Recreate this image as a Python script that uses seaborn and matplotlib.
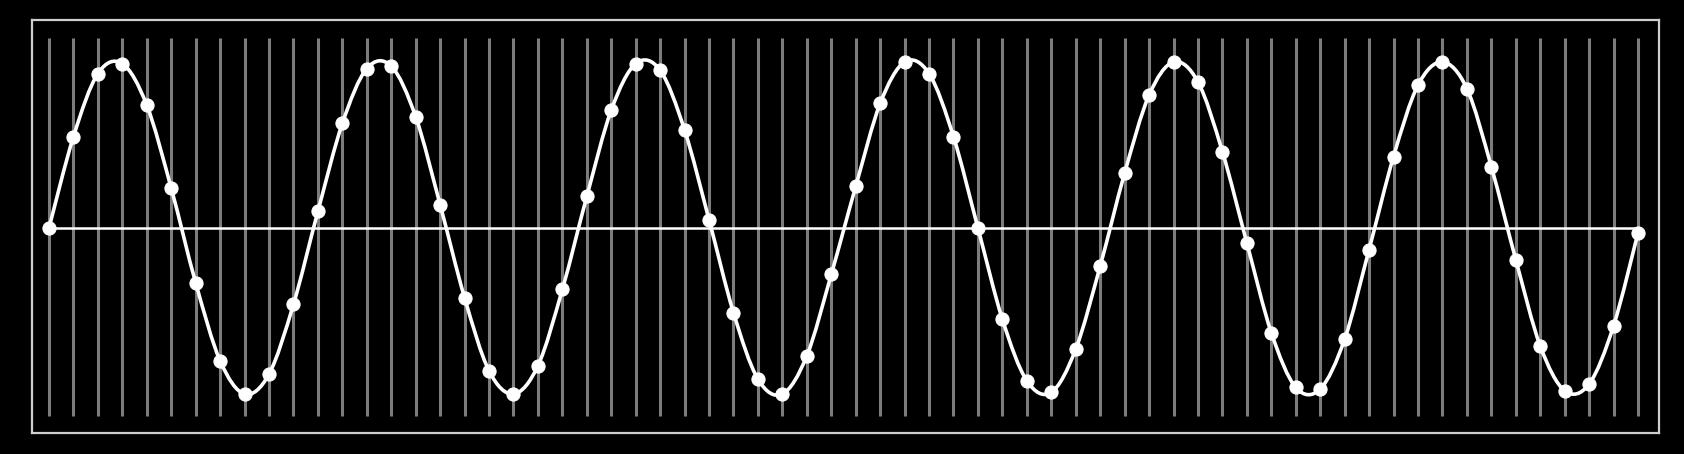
import matplotlib
matplotlib.use('Agg')

import matplotlib.pyplot as plt
from matplotlib.path import Path
from matplotlib.patches import PathPatch
import seaborn as sns
import numpy as np
import pandas as pd

sample_idx = list(range(66))
sample_vals = [
    0.00, 0.55, 0.93, 0.99, 0.74, 0.24, -0.33, -0.80, -1.00, -0.88,
    -0.46, 0.10, 0.63, 0.96, 0.975, 0.67, 0.14, -0.42, -0.86, -1.00,
    -0.83, -0.37, 0.19, 0.71, 0.99, 0.95, 0.59, 0.05, -0.51, -0.91,
    -1.00, -0.77, -0.28, 0.25, 0.75, 1.00, 0.93, 0.55, 0.00, -0.55,
    -0.92, -0.99, -0.73, -0.23, 0.33, 0.80, 1.00, 0.88, 0.46, -0.09,
    -0.63, -0.96, -0.97, -0.67, -0.13, 0.43, 0.86, 1.00, 0.84, 0.37,
    -0.19, -0.71, -0.98, -0.94, -0.59, -0.03,
]

BG = '#000000'
FRAME = '#cfcfcf'
GRID = '#7c7c7c'
WAVE = '#ffffff'

sns.set_style('dark', {
    'figure.facecolor': BG,
    'axes.facecolor': BG,
    'axes.edgecolor': FRAME,
})

df = pd.DataFrame({'n': sample_idx, 'value': sample_vals})


def smooth_path(x, y):
    """Catmull-Rom curve through the samples, as cubic bezier segments."""
    p = np.column_stack([x, y]).astype(float)
    p_ext = np.vstack([p[0], p, p[-1]])
    verts = [p[0]]
    codes = [Path.MOVETO]
    for i in range(len(p) - 1):
        p0, p1, p2, p3 = p_ext[i], p_ext[i + 1], p_ext[i + 2], p_ext[i + 3]
        verts += [p1 + (p2 - p0) / 6, p2 - (p3 - p1) / 6, p2]
        codes += [Path.CURVE4] * 3
    return Path(verts, codes)


W, H = 1684, 454
fig = plt.figure(figsize=(W / 100, H / 100), dpi=100, facecolor=BG)
ax = fig.add_axes([32 / W, (H - 433) / H, (1659 - 32) / W, (433 - 20) / H])

# one grey stem per sample
ax.vlines(df['n'], -1.133, 1.145, color=GRID, linewidth=2.2, zorder=1)

# zero axis between first and last sample
ax.hlines(0, df['n'].iloc[0], df['n'].iloc[-1], color=WAVE, linewidth=1.8, zorder=2)

# smooth wave through the samples
ax.add_patch(PathPatch(smooth_path(df['n'], df['value']), facecolor='none',
                       edgecolor=WAVE, linewidth=2.6, zorder=3))

# sample dots
sns.lineplot(data=df, x='n', y='value', color=WAVE, linestyle='',
             marker='o', markersize=9.5, markeredgecolor=WAVE,
             markerfacecolor=WAVE, ax=ax, zorder=4)

ax.set_xlim(-0.695, 65.86)
ax.set_ylim(-1.235, 1.253)
ax.set_xticks([])
ax.set_yticks([])
ax.set_xlabel('')
ax.set_ylabel('')
ax.grid(False)
for sp in ax.spines.values():
    sp.set_visible(True)
    sp.set_color(FRAME)
    sp.set_linewidth(1.6)

fig.savefig('out.png', dpi=100, facecolor=BG)
plt.close(fig)
